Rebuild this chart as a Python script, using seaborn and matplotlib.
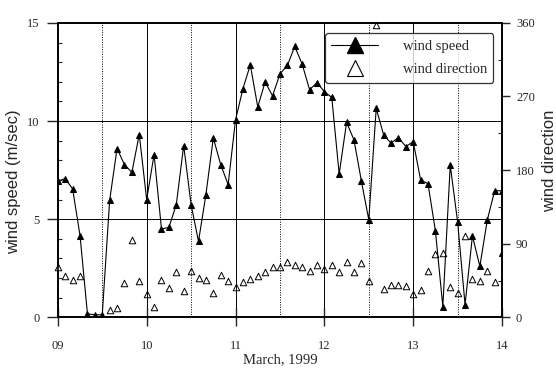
import numpy as np
import pandas as pd
import matplotlib
matplotlib.use("Agg")
import matplotlib.pyplot as plt
from matplotlib.lines import Line2D
from matplotlib.ticker import MultipleLocator, FixedLocator
import seaborn as sns

# ---- data (2-hourly, starting 09 March 1999 00:00) ----
hours = list(range(0, 121, 2)) + [120]
speed = [6.93, 7.07, 6.54, 4.16, 0.18, 0.13, 0.13, 5.96, 8.6, 7.78, 7.39, 9.31,
         6.0, 8.29, 4.5, 4.58, 5.74, 8.75, 5.74, 3.87, 6.25, 9.14, 7.78, 6.76,
         10.05, 11.65, 12.86, 10.72, 11.99, 11.28, 12.4, 12.83, 13.8, 12.9, 11.6, 11.95,
         11.5, 11.2, 7.3, 9.93, 9.04, 6.94, 4.97, 10.64, 9.3, 8.87, 9.16, 8.7,
         8.95, 7.0, 6.8, 4.4, 0.55, 7.75, 4.85, 0.65, 4.15, 2.6, 4.95, 6.45,
         6.45, 3.3]
direction = [61, 51, 46, 51, np.nan, np.nan, np.nan, 9, 12, 42, 94, 44,
             29, 12.6, 46, 36, 55, 32, 57, 48, 46, 30, 52, 45,
             37, 43, 47, 51, 56, 61, 62, 68, 64, 61, 57, 64,
             59, 64, 55, 68, 55, 66, 44, 358, 35, 39, 40, 38,
             28, 33, 57, 77, 79, 37, 30, 100, 47, 44, 57, 43,
             np.nan, np.nan]
day_ticks = [9, 10, 11, 12, 13, 14]
day_labels = ["09", "10", "11", "12", "13", "14"]

df = pd.DataFrame({"day": [9 + h / 24 for h in hours],
                   "speed": speed, "direction": direction})

sns.set_style("white")
plt.rcParams["font.family"] = ["Liberation Serif", "DejaVu Serif"]

fig = plt.figure(figsize=(5.56, 3.69), dpi=100)
ax = fig.add_axes([0.104, 0.140, 0.799, 0.798])
ax2 = ax.twinx()

# grid lines
for d in [10, 11, 12, 13]:
    ax.axvline(d, color="black", lw=0.7, zorder=0)
for d in [9.5, 10.5, 11.5, 12.5, 13.5]:
    ax.axvline(d, color="black", lw=0.7, ls=(0, (1, 1.5)), zorder=0)
for v in [5, 10]:
    ax.axhline(v, color="black", lw=0.7, zorder=0)

sns.lineplot(data=df, x="day", y="speed", ax=ax, color="black", lw=0.8,
             marker="^", markersize=5, markeredgecolor="black",
             markerfacecolor="black", sort=False, estimator=None)
sns.scatterplot(data=df, x="day", y="direction", ax=ax2, marker="^", s=22,
                facecolor="white", edgecolor="black", linewidth=0.7,
                clip_on=False, zorder=5)

ax.set_xlim(9, 14)
ax.set_ylim(0, 15)
ax2.set_ylim(0, 360)

ax.set_xticks(day_ticks)
ax.set_xticklabels(day_labels, fontsize=9)
ax.xaxis.set_minor_locator(FixedLocator([9.5, 10.5, 11.5, 12.5, 13.5]))
ax.set_yticks([0, 5, 10, 15])
ax.yaxis.set_minor_locator(MultipleLocator(1))
ax.tick_params(axis="x", which="major", direction="inout", length=13, width=1.0,
               labelsize=9, pad=10)
ax.tick_params(axis="x", which="minor", direction="inout", length=8.5, width=1.0)
ax.tick_params(axis="y", which="major", direction="out", length=8, width=1.0,
               labelsize=9, pad=5)
ax.tick_params(axis="y", which="minor", direction="in", length=3, width=0.8)
ax.tick_params(left=True, bottom=True)

ax2.set_yticks([0, 90, 180, 270, 360])
ax2.yaxis.set_minor_locator(MultipleLocator(45))
ax2.tick_params(axis="y", which="major", direction="out", length=6, width=1.0,
                labelsize=9, pad=4)
ax2.tick_params(axis="y", which="minor", direction="in", length=3, width=0.8)
ax2.tick_params(right=True)

for a in (ax, ax2):
    for s in a.spines.values():
        s.set_color("black")
        s.set_linewidth(1.2)

ax.set_xlabel("March, 1999", fontsize=10.5)
ax.xaxis.set_label_coords(0.5, -0.122)
ax.set_ylabel("wind speed (m/sec)", fontsize=12, family="Liberation Sans")
ax.yaxis.set_label_coords(-0.082, 0.46)
ax2.set_ylabel("wind direction", fontsize=12, family="Liberation Sans")
ax2.yaxis.set_label_coords(1.089, 0.53)

handles = [Line2D([0], [0], color="black", lw=0.8, marker="^", markersize=11,
                  markerfacecolor="black", markeredgecolor="black"),
           Line2D([0], [0], color="none", marker="^", markersize=11,
                  markerfacecolor="white", markeredgecolor="black", markeredgewidth=0.8)]
leg = ax.legend(handles, ["wind speed", "wind direction"], loc="upper right",
                bbox_to_anchor=(0.997, 0.99), fontsize=10.5, frameon=True,
                fancybox=True, edgecolor="black", handlelength=3.2,
                borderpad=0.45, labelspacing=0.7, handletextpad=1.7)
leg.get_frame().set_linewidth(0.9)
leg.set_zorder(10)
ax.set_zorder(ax2.get_zorder() + 1)
ax.patch.set_visible(False)

fig.savefig("out.png", dpi=100)
